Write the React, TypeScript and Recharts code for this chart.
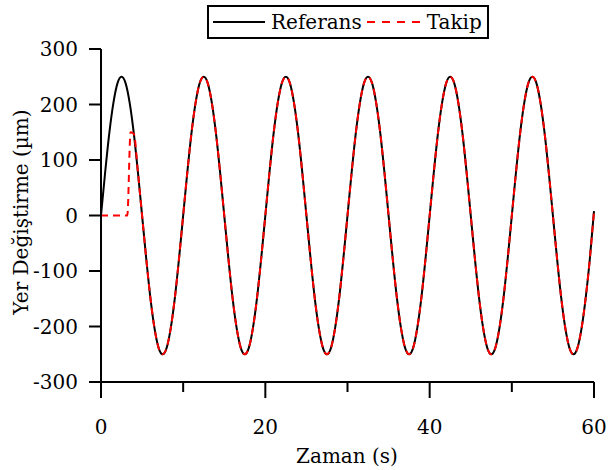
import React from "react";
import { LineChart, Line, XAxis, YAxis, Label } from "recharts";

const FONT = "DejaVu Serif";
const FS = 20;

// Referans: time (s) and displacement (µm)
const refTime = [
  0, 0.5, 1, 1.5, 2, 2.5, 3, 3.5, 4, 4.5, 5, 5.5, 6, 6.5, 7, 7.5, 8, 8.5, 9, 9.5,
  10, 10.5, 11, 11.5, 12, 12.5, 13, 13.5, 14, 14.5, 15, 15.5, 16, 16.5, 17, 17.5, 18, 18.5, 19, 19.5,
  20, 20.5, 21, 21.5, 22, 22.5, 23, 23.5, 24, 24.5, 25, 25.5, 26, 26.5, 27, 27.5, 28, 28.5, 29, 29.5,
  30, 30.5, 31, 31.5, 32, 32.5, 33, 33.5, 34, 34.5, 35, 35.5, 36, 36.5, 37, 37.5, 38, 38.5, 39, 39.5,
  40, 40.5, 41, 41.5, 42, 42.5, 43, 43.5, 44, 44.5, 45, 45.5, 46, 46.5, 47, 47.5, 48, 48.5, 49, 49.5,
  50, 50.5, 51, 51.5, 52, 52.5, 53, 53.5, 54, 54.5, 55, 55.5, 56, 56.5, 57, 57.5, 58, 58.5, 59, 59.5,
  60,
];
const refValues = [
  0, 77, 147, 202, 238, 250, 238, 202, 147, 77, 0, -77, -147, -202, -238, -250, -238, -202, -147, -77,
  0, 77, 147, 202, 238, 250, 238, 202, 147, 77, 0, -77, -147, -202, -238, -250, -238, -202, -147, -77,
  0, 77, 147, 202, 238, 250, 238, 202, 147, 77, 0, -77, -147, -202, -238, -250, -238, -202, -147, -77,
  0, 77, 147, 202, 238, 250, 238, 202, 147, 77, 0, -77, -147, -202, -238, -250, -238, -202, -147, -77,
  0, 77, 147, 202, 238, 250, 238, 202, 147, 77, 0, -77, -147, -202, -238, -250, -238, -202, -147, -77,
  0, 77, 147, 202, 238, 250, 238, 202, 147, 77, 0, -77, -147, -202, -238, -250, -238, -202, -147, -77,
  8,
];

// Takip: time (s) and displacement (µm)
const takipTime = [
  0, 1, 2, 3, 3.2, 3.6, 4, 4.5, 5, 5.5, 6, 6.5, 7, 7.5, 8, 8.5, 9, 9.5,
  10, 10.5, 11, 11.5, 12, 12.5, 13, 13.5, 14, 14.5, 15, 15.5, 16, 16.5, 17, 17.5, 18, 18.5, 19, 19.5,
  20, 20.5, 21, 21.5, 22, 22.5, 23, 23.5, 24, 24.5, 25, 25.5, 26, 26.5, 27, 27.5, 28, 28.5, 29, 29.5,
  30, 30.5, 31, 31.5, 32, 32.5, 33, 33.5, 34, 34.5, 35, 35.5, 36, 36.5, 37, 37.5, 38, 38.5, 39, 39.5,
  40, 40.5, 41, 41.5, 42, 42.5, 43, 43.5, 44, 44.5, 45, 45.5, 46, 46.5, 47, 47.5, 48, 48.5, 49, 49.5,
  50, 50.5, 51, 51.5, 52, 52.5, 53, 53.5, 54, 54.5, 55, 55.5, 56, 56.5, 57, 57.5, 58, 58.5, 59, 59.5,
  60,
];
const takipValues = [
  0, 0, 0, 0, 0, 150, 147, 77, 0, -77, -147, -202, -238, -250, -238, -202, -147, -77,
  0, 77, 147, 202, 238, 250, 238, 202, 147, 77, 0, -77, -147, -202, -238, -250, -238, -202, -147, -77,
  0, 77, 147, 202, 238, 250, 238, 202, 147, 77, 0, -77, -147, -202, -238, -250, -238, -202, -147, -77,
  0, 77, 147, 202, 238, 250, 238, 202, 147, 77, 0, -77, -147, -202, -238, -250, -238, -202, -147, -77,
  0, 77, 147, 202, 238, 250, 238, 202, 147, 77, 0, -77, -147, -202, -238, -250, -238, -202, -147, -77,
  0, 77, 147, 202, 238, 250, 238, 202, 147, 77, 0, -77, -147, -202, -238, -250, -238, -202, -147, -77,
  8,
];

const xTicks = [0, 10, 20, 30, 40, 50, 60];
const xLabeled = [0, 20, 40, 60];
const yTicks = [-300, -200, -100, 0, 100, 200, 300];

const refData = refTime.map((t, i) => ({ t, v: refValues[i] }));
const takipData = takipTime.map((t, i) => ({ t, v: takipValues[i] }));

const XTick = (props: any) => {
  const { x, y, payload } = props;
  const major = xLabeled.includes(payload.value);
  return (
    <g>
      <line x1={x} x2={x} y1={y} y2={y + (major ? 16 : 10)} stroke="#000" strokeWidth={2} />
      {major && (
        <text x={x} y={y + 52} textAnchor="middle" fontFamily={FONT} fontSize={FS} fill="#000">
          {payload.value}
        </text>
      )}
    </g>
  );
};

const YTick = (props: any) => {
  const { x, y, payload } = props;
  return (
    <g>
      <line x1={x} x2={x - 12} y1={y} y2={y} stroke="#000" strokeWidth={2} />
      <text x={x - 23} y={y + 7} textAnchor="end" fontFamily={FONT} fontSize={FS} fill="#000">
        {payload.value}
      </text>
    </g>
  );
};

export default function App() {
  return (
    <div style={{ position: "absolute", left: 0, top: 0, width: 608, height: 470, background: "#fff" }}>
      <LineChart
        width={608}
        height={470}
        margin={{ top: 49, right: 14, bottom: 0, left: 0 }}
      >
        <XAxis
          dataKey="t"
          type="number"
          domain={[0, 60]}
          ticks={xTicks}
          interval={0}
          tickLine={false}
          tickSize={0}
          tickMargin={0}
          height={88}
          axisLine={{ stroke: "#000", strokeWidth: 2 }}
          tick={<XTick />}
          allowDuplicatedCategory={false}
        >
          <Label
            content={() => (
              <text x={347} y={463} textAnchor="middle" fontFamily={FONT} fontSize={FS} fill="#000">
                Zaman (s)
              </text>
            )}
          />
        </XAxis>
        <YAxis
          type="number"
          domain={[-300, 300]}
          ticks={yTicks}
          interval={0}
          tickLine={false}
          tickSize={0}
          tickMargin={0}
          width={101}
          axisLine={{ stroke: "#000", strokeWidth: 2 }}
          tick={<YTick />}
        >
          <Label
            content={() => (
              <text
                x={0}
                y={0}
                transform="translate(28,212) rotate(-90)"
                textAnchor="middle"
                fontFamily={FONT}
                fontSize={FS}
                fill="#000"
              >
                Yer Değiştirme (µm)
              </text>
            )}
          />
        </YAxis>
        <Line
          data={refData}
          dataKey="v"
          type="monotone"
          stroke="#000"
          strokeWidth={2}
          dot={false}
          isAnimationActive={false}
        />
        <Line
          data={takipData}
          dataKey="v"
          type="monotone"
          stroke="#ff0000"
          strokeWidth={2}
          strokeDasharray="7 5"
          dot={false}
          isAnimationActive={false}
        />
      </LineChart>
      <div
        style={{
          position: "absolute",
          left: 207,
          top: 5,
          width: 278,
          height: 30,
          border: "2px solid #000",
          background: "#fff",
          display: "flex",
          alignItems: "center",
          fontFamily: FONT,
          fontSize: FS,
          color: "#000",
          boxSizing: "content-box",
          whiteSpace: "nowrap",
        }}
      >
        <svg width={58} height={20} style={{ marginLeft: 2, flexShrink: 0 }}>
          <line x1={2} x2={54} y1={10} y2={10} stroke="#000" strokeWidth={2} />
        </svg>
        <span style={{ marginLeft: 2 }}>Referans</span>
        <svg width={60} height={20} style={{ marginLeft: 3, flexShrink: 0 }}>
          <line x1={2} x2={56} y1={10} y2={10} stroke="#ff0000" strokeWidth={2} strokeDasharray="8 7" />
        </svg>
        <span style={{ marginLeft: 2 }}>Takip</span>
      </div>
    </div>
  );
}
